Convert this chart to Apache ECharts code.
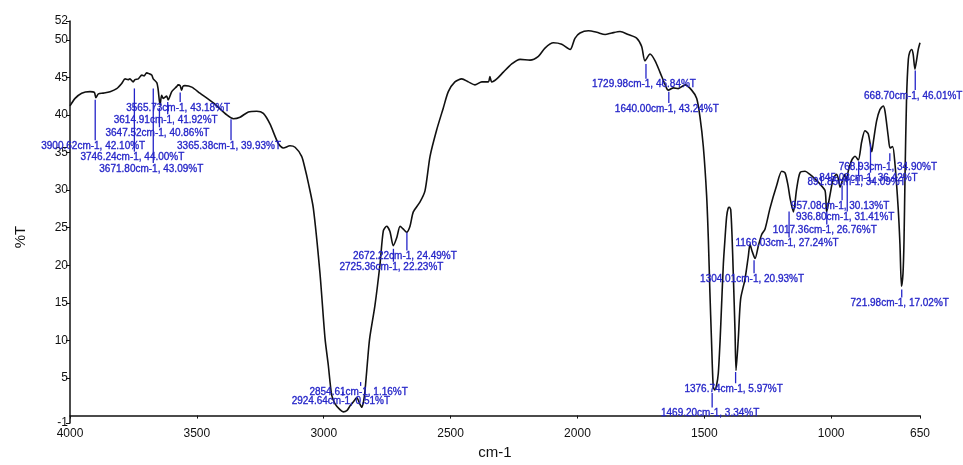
<!DOCTYPE html>
<html><head><meta charset="utf-8">
<script src="https://cdn.jsdelivr.net/npm/echarts@6/dist/echarts.min.js"></script>
<style>html,body{margin:0;padding:0;background:#fff}#c{width:963px;height:465px}</style>
</head><body><div id="c"></div>
<script>
const wavenumbers = [4000,3980,3954,3921,3904,3898,3888,3869,3842,3816,
3796,3783,3771,3764,3751,3744,3731,3717,3708,3698,
3689,3678,3672,3658,3653,3645,3639,3632,3619,3613,
3599,3579,3574,3566,3560,3555,3547,3520,3488,3435,
3382,3356,3330,3297,3264,3238,3212,3179,3159,3133,
3113,3087,3074,3061,3041,3015,2995,2982,2969,2956,
2936,2923,2908,2896,2877,2870,2863,2857,2850,2843,
2837,2824,2818,2798,2778,2765,2752,2739,2726,2712,
2699,2686,2673,2660,2647,2621,2601,2581,2555,2529,
2509,2483,2456,2430,2404,2377,2351,2345,2338,2318,
2292,2259,2226,2187,2154,2128,2095,2062,2029,2010,
1990,1957,1924,1891,1865,1832,1800,1766,1747,1734,
1714,1694,1675,1648,1642,1622,1603,1576,1550,1530,
1517,1504,1491,1484,1478,1472,1465,1459,1452,1445,
1438,1432,1425,1419,1412,1406,1401,1396,1391,1386,
1379,1375,1366,1357,1340,1327,1320,1312,1300,1287,
1274,1261,1241,1215,1195,1182,1170,1162,1149,1136,
1123,1103,1084,1064,1044,1024,1018,1005,992,979,
971,965,952,946,940,933,919,906,893,880,
867,854,840,834,821,808,795,788,775,768,
758,749,736,729,723,717,713,709,703,696,
690,683,677,670,663,657,650];
const transmittance = [41.2,42.2,42.9,43.1,43.0,42.3,42.8,42.9,43.1,43.5,
44.2,44.8,44.7,44.8,44.4,44.7,44.8,45.3,45.2,45.6,
45.5,45.3,44.8,44.3,43.5,41.3,42.6,42.2,42.5,42.0,
43.1,43.8,44.0,43.9,43.3,43.8,43.9,43.7,42.9,41.6,
40.0,39.5,39.7,40.4,40.5,40.2,38.8,36.2,35.6,35.9,
35.7,34.5,32.9,31.0,27.6,19.0,10.3,6.7,2.8,1.6,
0.8,0.5,0.7,1.3,2.1,2.4,2.0,1.5,1.1,1.9,
3.4,8.6,10.5,14.7,20.2,24.6,25.2,24.5,22.6,23.7,
25.2,24.8,24.4,25.2,27.1,28.4,29.9,34.5,38.0,40.9,
43.1,44.4,44.8,44.4,44.0,44.4,44.4,45.1,44.4,44.8,
45.7,46.8,47.4,47.3,47.8,48.9,49.6,49.4,48.7,50.2,
50.9,51.2,51.0,50.7,50.9,51.1,50.7,50.2,49.1,47.2,
48.1,47.2,45.7,43.5,43.3,43.6,43.5,44.0,43.3,42.2,
39.7,35.8,29.3,23.3,16.4,10.3,3.9,3.4,4.0,5.6,
9.9,14.7,20.2,23.3,26.5,27.6,27.7,27.4,24.1,19.0,
11.2,6.0,10.3,15.5,18.1,21.1,22.8,21.9,20.9,22.6,
24.1,24.8,27.6,30.6,32.5,32.3,30.6,28.9,27.1,30.2,
32.3,32.5,32.1,31.5,30.8,29.9,27.1,29.3,31.5,32.1,
31.4,30.4,31.7,32.1,31.1,32.5,34.0,34.5,34.0,36.4,
37.9,37.5,35.1,36.4,39.2,40.7,41.2,40.5,37.1,35.6,
35.8,33.6,27.6,22.8,17.2,18.9,23.3,31.9,42.2,47.4,
48.4,48.7,48.1,46.1,47.4,48.7,49.6];

// peak annotations: wavenumber, %T in label, leader line extent (%T top, %T bottom)
const peakWn = [3900.62,3746.24,3671.80,3647.52,3614.91,3565.73,3365.38,1729.98,1640.00,668.70,
768.93,891.85,845.08,957.08,936.80,1017.36,1166.03,1304.01,1376.74,1469.20,
721.98,2672.22,2725.36,2854.61,2924.64];
const peakT = [42.10,44.00,43.09,40.86,41.92,43.18,39.93,46.84,43.24,46.01,
34.90,34.09,36.42,30.13,31.41,26.76,27.24,20.93,5.97,3.34,
17.02,24.49,22.23,1.16,0.51];
const leaderTop = [42.02,43.53,43.53,40.94,41.72,42.98,39.43,46.77,43.10,45.90,
34.90,33.83,36.20,30.60,31.89,27.14,27.14,20.67,5.80,3.00,
16.79,24.35,22.19,4.46,3.17];
const leaderBottom = [36.64,35.12,33.61,38.36,40.08,41.72,36.64,44.83,41.59,43.31,
33.83,31.89,32.32,28.65,27.14,25.42,23.70,18.95,4.30,1.06,
15.72,21.97,20.47,3.95,2.65];

const xTickValues = [4000,3500,3000,2500,2000,1500,1000,650];
const yTickValues = [-1,5,10,15,20,25,30,35,40,45,50,52.5];
const yTickLabels = ['-1','5','10','15','20','25','30','35','40','45','50','52'];

const spectrum = wavenumbers.map((w,i)=>[w, transmittance[i]]);
const peakLabels = peakWn.map((w,i)=>w.toFixed(2)+'cm-1, '+peakT[i].toFixed(2)+'%T');
const peakData = peakWn.map((w,i)=>[w, leaderTop[i], leaderBottom[i]]);
const BLUE = '#2424c8';

const chart = echarts.init(document.getElementById('c'));
chart.setOption({
  animation:false,
  backgroundColor:'#fff',
  grid:{left:70,right:43,top:21,bottom:31,containLabel:false},
  xAxis:{
    type:'value', min:650, max:4000, inverse:true,
    name:'cm-1', nameLocation:'middle', nameGap:19,
    nameTextStyle:{fontSize:15,color:'#111',fontFamily:'Liberation Sans, Arial'},
    axisLine:{show:true,lineStyle:{color:'#111',width:1.5}},
    axisTick:{show:true,length:3,customValues:xTickValues,lineStyle:{color:'#111'}},
    axisLabel:{customValues:xTickValues,fontSize:12,color:'#111',margin:5,fontFamily:'Liberation Sans, Arial',
      formatter:v=>String(v)},
    splitLine:{show:false}
  },
  yAxis:{
    type:'value', min:-1, max:52.5,
    name:'%T', nameLocation:'middle', nameGap:42, nameRotate:90,
    nameTextStyle:{fontSize:15,color:'#111',fontFamily:'Liberation Sans, Arial',padding:[0,30,0,0]},
    axisLine:{show:true,lineStyle:{color:'#111',width:1.5}},
    axisTick:{show:true,length:4,customValues:yTickValues,lineStyle:{color:'#111'}},
    axisLabel:{customValues:yTickValues,fontSize:12,color:'#111',margin:2,fontFamily:'Liberation Sans, Arial',
      formatter:v=>{const i=yTickValues.indexOf(v);return i>=0?yTickLabels[i]:'';}},
    splitLine:{show:false}
  },
  series:[
    {type:'line', data:spectrum, showSymbol:false, smooth:0.25,
     lineStyle:{color:'#111',width:1.6}, z:3},
    {type:'custom', data:peakData, z:4,
     renderItem:(params, api)=>{
       const p1 = api.coord([api.value(0), api.value(1)]);
       const p2 = api.coord([api.value(0), api.value(2)]);
       return {type:'group', children:[
         {type:'line', shape:{x1:p1[0],y1:p1[1],x2:p2[0],y2:p2[1]}, style:{stroke:BLUE,lineWidth:1.3}},
         {type:'text', x:p2[0]-2, y:p2[1]+1,
          style:{text:peakLabels[params.dataIndex], fill:BLUE, font:'10px "Liberation Sans", Arial',
                 align:'center', verticalAlign:'top', stroke:BLUE, lineWidth:0.3}}
       ]};
     }}
  ]
});
</script></body></html>
